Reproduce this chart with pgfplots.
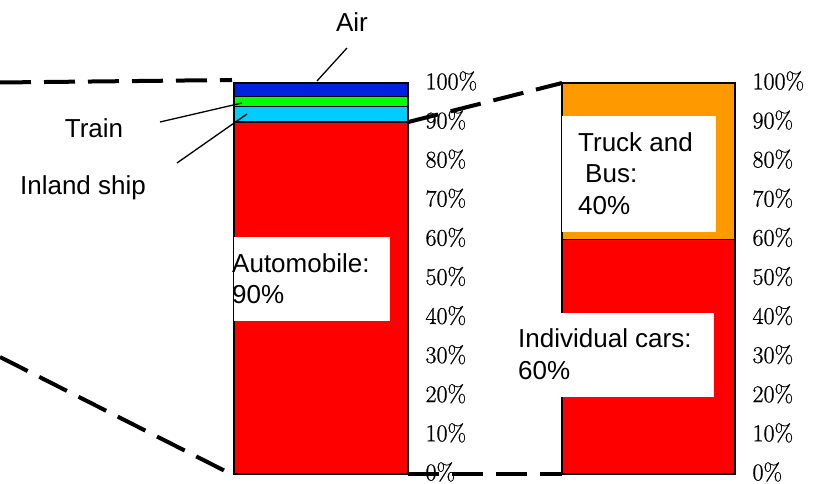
\documentclass[border=0pt]{standalone}
\usepackage{fontspec}
\usepackage{pgfplots}
\pgfplotsset{compat=1.18}
\newfontfamily\arial{Liberation Sans}
\newfontfamily\tickfont[FakeBold=0.8]{Latin Modern Roman}
\newcommand\lbl{\arial\fontsize{26bp}{31bp}\selectfont}

\definecolor{airblue}{HTML}{0022E0}
\definecolor{traingreen}{HTML}{00FF00}
\definecolor{shipcyan}{HTML}{00CCFF}
\definecolor{carred}{HTML}{FF0000}
\definecolor{truckorange}{HTML}{FF9900}

\pgfplotsset{
  sharebar/.style={
    scale only axis, height=391bp,
    ybar stacked, bar width=1, clip=false,
    xmin=-0.5, xmax=0.5, ymin=0, ymax=100,
    axis x line=none, axis y line*=right,
    axis line style={black, line width=1.5bp, -},
    ytick={0,10,...,100}, ytick pos=right, yticklabel pos=right,
    tick align=inside, major tick length=8bp,
    tick style={black, line width=1.5bp},
    /pgf/number format/assume math mode=true,
    yticklabel={\pgfmathprintnumber{\tick}\%},
    yticklabel style={font=\tickfont\fontsize{24bp}{24bp}\selectfont,
      anchor=west, xshift=14bp, yshift=2bp},
    every axis plot/.append style={draw=black, line width=1.5bp},
  }
}

\begin{document}
\begin{tikzpicture}[x=1bp, y=1bp]
\useasboundingbox (0,0) rectangle (827,484);

% Modal split of all freight
\begin{axis}[sharebar, at={(234bp,10bp)}, anchor=south west, width=174bp]
  \addplot[fill=carred]     coordinates {(0,90)};  % Automobile
  \addplot[fill=shipcyan]   coordinates {(0,4)};   % Inland ship
  \addplot[fill=traingreen] coordinates {(0,2.5)}; % Train
  \addplot[fill=airblue]    coordinates {(0,3.5)}; % Air
  \coordinate (Ltop) at (axis cs:0.5,90);
  \coordinate (Lbot) at (axis cs:0.5,0);
\end{axis}

% Breakdown of the automobile share
\begin{axis}[sharebar, at={(562bp,10bp)}, anchor=south west, width=173bp]
  \addplot[fill=carred]      coordinates {(0,60)}; % Individual cars
  \addplot[fill=truckorange] coordinates {(0,40)}; % Truck and Bus
  \coordinate (Rtop) at (axis cs:-0.5,100);
  \coordinate (Rbot) at (axis cs:-0.5,0);
\end{axis}

% zoom connectors
\begin{scope}[line width=4bp, dash pattern=on 31bp off 13bp]
  \draw (0,401.5) -- (232,404);
  \draw (0,127) -- (231,10);
  \draw (Ltop) -- (Rtop);
  \draw (Lbot) -- (Rbot);
\end{scope}

% label boxes
\fill[white] (234,247) rectangle (390,163);
\fill[white] (562,368) rectangle (716,252);
\fill[white] (510,171) rectangle (714,87);

\node[anchor=base west, inner sep=0, font=\lbl] at (232,211) {Automobile:};
\node[anchor=base west, inner sep=0, font=\lbl] at (232,180) {90\%};

\node[anchor=base west, inner sep=0, font=\lbl] at (578,332) {Truck and};
\node[anchor=base west, inner sep=0, font=\lbl] at (585,301) {Bus:};
\node[anchor=base west, inner sep=0, font=\lbl] at (578,269) {40\%};

\node[anchor=base west, inner sep=0, font=\lbl] at (518,136) {Individual cars:};
\node[anchor=base west, inner sep=0, font=\lbl] at (518,104) {60\%};

% small segment labels with leaders
\node[font=\lbl, inner sep=0] at (352,462) {Air};
\node[font=\lbl, inner sep=0] at (94,356) {Train};
\node[font=\lbl, inner sep=0] at (83,296) {Inland ship};
\begin{scope}[line width=1.3bp]
  \draw (347,436) -- (317,403);
  \draw (160,362) -- (242,381);
  \draw (177,321) -- (247,370);
\end{scope}
\end{tikzpicture}
\end{document}
